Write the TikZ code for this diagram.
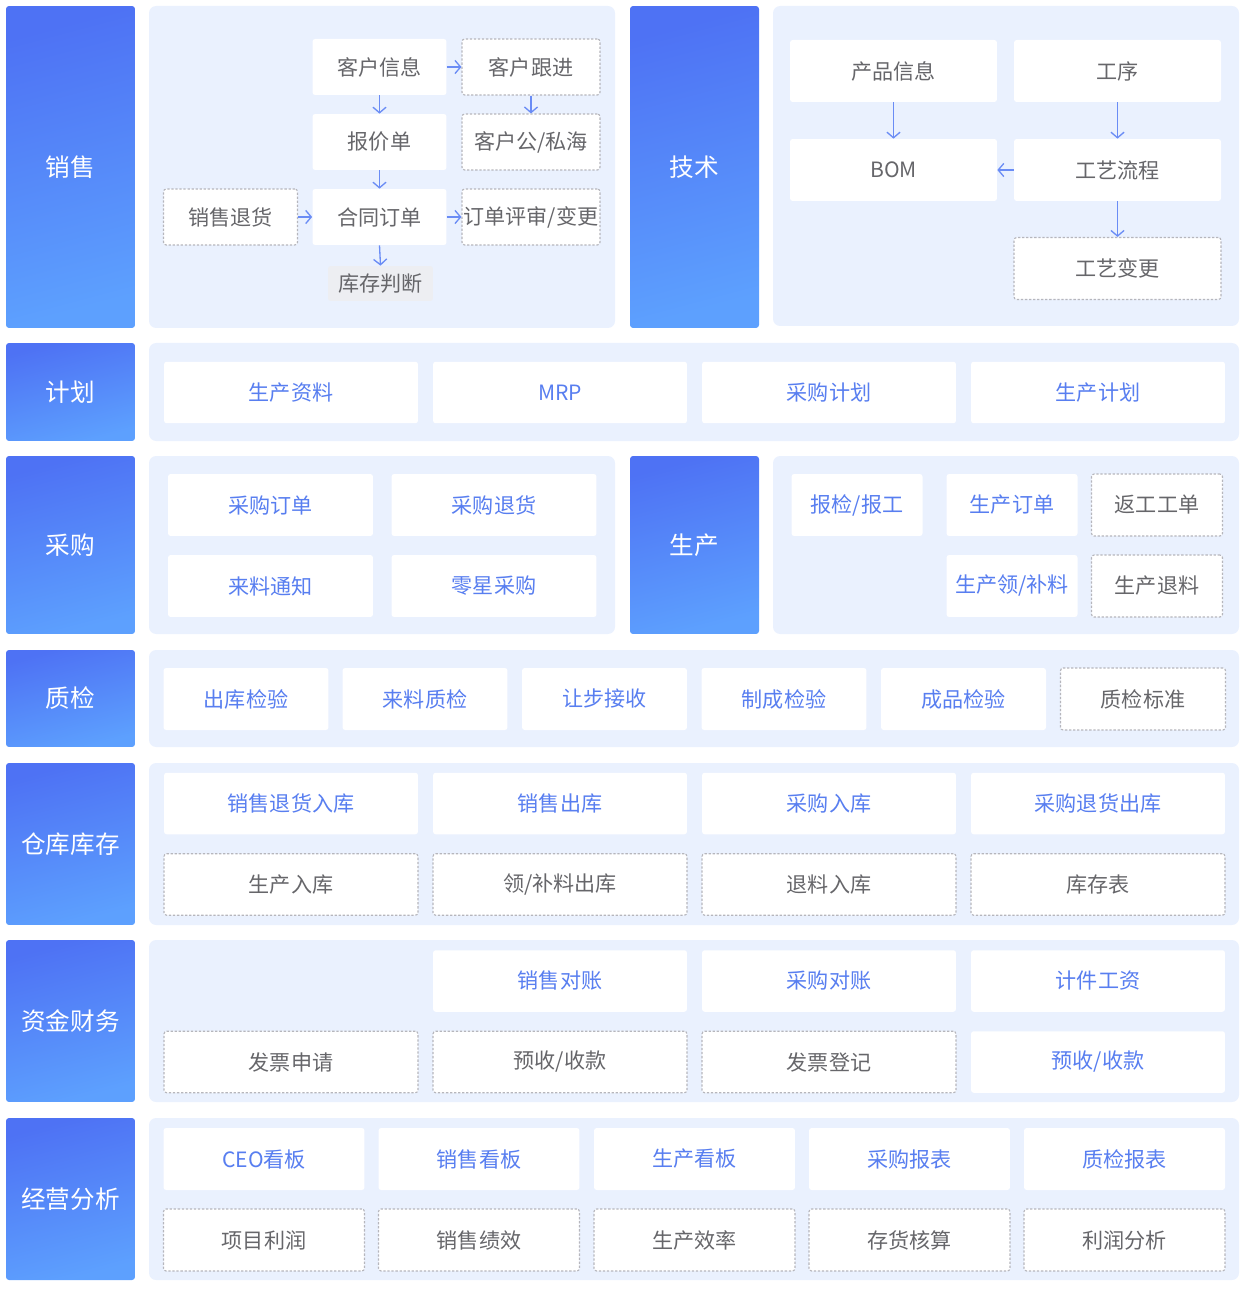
\documentclass[tikz,border=0pt]{standalone}
\usepackage{fontspec}
\newfontfamily\cjk{Noto Sans CJK SC}
\usetikzlibrary{arrows.meta}
\definecolor{labtop}{RGB}{78,114,244}
\definecolor{labbot}{RGB}{93,160,254}
\definecolor{panelbg}{RGB}{234,241,254}
\definecolor{bluetxt}{RGB}{88,126,240}
\definecolor{graytxt}{RGB}{102,102,106}
\definecolor{dashgray}{RGB}{182,182,188}
\definecolor{arrowblue}{RGB}{106,140,245}
\definecolor{stockgray}{RGB}{237,238,242}
\begin{document}
\begin{tikzpicture}[x = 0.02cm, y = -0.02cm,
        lab/.style = {rectangle, rounded corners = 1.7pt, top color = labtop, bottom color = labbot, shading angle = 15, text = white, minimum width = 2.58cm, inner sep = 0pt, font = \cjk\fontsize{14}{16}\selectfont},
        panel/.style = {fill = panelbg, rounded corners = 4pt},
        box/.style = {rectangle, rounded corners = 1.5pt, fill = white, inner sep = 0pt, font = \cjk\fontsize{12}{14}\selectfont},
        blu/.style = {box, text = bluetxt},
        gry/.style = {box, text = graytxt},
        dsh/.style = {box, text = graytxt, draw = dashgray, line width = 0.65pt, dash pattern = on 1.3pt off 1pt},
        arr/.style = {draw = arrowblue, line width = 0.75pt, -{Straight Barb[length = 3.2pt, width = 7.5pt]}},
        sbox/.style = {minimum width = 2.68cm, minimum height = 1.12cm},
        tbox/.style = {minimum width = 4.14cm, minimum height = 1.24cm},
        wbox/.style = {minimum width = 5.08cm, minimum height = 1.23cm},
        pbox/.style = {minimum width = 4.1cm, minimum height = 1.24cm},
        mbox/.style = {minimum width = 2.62cm, minimum height = 1.24cm},
        qbox/.style = {minimum width = 3.3cm, minimum height = 1.24cm},
        abox/.style = {minimum width = 4.02cm, minimum height = 1.24cm}]
    \useasboundingbox (0, 0) rectangle (1252, 1290);

    \node [lab, minimum height = 6.44cm] (xs) at (70.5, 167) {销售};
    \node [lab, minimum height = 6.44cm] (js) at (694.5, 167) {技术};
    \fill [panel] (149, 6) rectangle (615, 328);
    \fill [panel] (773, 6) rectangle (1239, 326);
    \node [gry, sbox] (khxx) at (379.5, 67) {客户信息};
    \node [dsh, sbox, minimum width = 2.76cm] (khgj) at (531, 67) {客户跟进};
    \node [gry, sbox] (bjd) at (379.5, 142) {报价单};
    \node [dsh, sbox, minimum width = 2.76cm] (gsh) at (531, 142) {客户公/私海};
    \node [dsh, sbox] (xsth) at (230.5, 217) {销售退货};
    \node [gry, sbox] (htdd) at (379.5, 217) {合同订单};
    \node [dsh, sbox, minimum width = 2.76cm] (ddps) at (531, 217) {订单评审/变更};
    \node [gry, fill = stockgray, minimum width = 2.1cm, minimum height = 0.7cm] (kcpd) at (380.5, 283.5) {库存判断};
    \draw [arr] (khxx.east) -- (khgj.west);
    \draw [arr] (khxx.south) -- (bjd.north);
    \draw [arr] (khgj.south) -- (gsh.north);
    \draw [arr] (bjd.south) -- (htdd.north);
    \draw [arr] (xsth.east) -- (htdd.west);
    \draw [arr] (htdd.east) -- (ddps.west);
    \draw [arr] (htdd.south) -- (kcpd.north);
    \node [gry, tbox] (cpxx) at (893.5, 71) {产品信息};
    \node [gry, tbox] (gx) at (1117.5, 71) {工序};
    \node [gry, tbox] (bom) at (893.5, 170) {BOM};
    \node [gry, tbox] (gylc) at (1117.5, 170) {工艺流程};
    \node [dsh, tbox] (gybg) at (1117.5, 268.5) {工艺变更};
    \draw [arr] (cpxx.south) -- (bom.north);
    \draw [arr] (gx.south) -- (gylc.north);
    \draw [arr] (gylc.west) -- (bom.east);
    \draw [arr] (gylc.south) -- (gybg.north);

    \node [lab, minimum height = 1.96cm] (jh) at (70.5, 392) {计划};
    \fill [panel] (149, 343) rectangle (1239, 441);
    \node [blu, wbox] (sczl) at (291, 392.5) {生产资料};
    \node [blu, wbox] (mrp) at (560, 392.5) {MRP};
    \node [blu, wbox] (cgjh) at (829, 392.5) {采购计划};
    \node [blu, wbox] (scjh) at (1098, 392.5) {生产计划};

    \node [lab, minimum height = 3.56cm] (cg) at (70.5, 545) {采购};
    \node [lab, minimum height = 3.56cm] (sc) at (694.5, 545) {生产};
    \fill [panel] (149, 456) rectangle (615, 634);
    \fill [panel] (773, 456) rectangle (1239, 634);
    \node [blu, pbox] (cgdd) at (270.5, 505) {采购订单};
    \node [blu, pbox] (cgth) at (494, 505) {采购退货};
    \node [blu, pbox] (lltz) at (270.5, 586) {来料通知};
    \node [blu, pbox] (lxcg) at (494, 586) {零星采购};
    \node [blu, mbox] (bjbg) at (857, 505) {报检/报工};
    \node [blu, mbox] (scdd) at (1012, 505) {生产订单};
    \node [dsh, mbox] (fggd) at (1157, 505) {返工工单};
    \node [blu, mbox] (scll) at (1012, 586) {生产领/补料};
    \node [dsh, mbox] (sctl) at (1157, 586) {生产退料};

    \node [lab, minimum height = 1.94cm] (zj) at (70.5, 698.5) {质检};
    \fill [panel] (149, 650) rectangle (1239, 747);
    \node [blu, qbox] (ckjy) at (246, 699) {出库检验};
    \node [blu, qbox] (llzj) at (425, 699) {来料质检};
    \node [blu, qbox] (rbjs) at (604.5, 699) {让步接收};
    \node [blu, qbox] (zcjy) at (784, 699) {制成检验};
    \node [blu, qbox] (cpjy) at (963.5, 699) {成品检验};
    \node [dsh, qbox] (zjbz) at (1143, 699) {质检标准};

    \node [lab, minimum height = 3.24cm] (ck) at (70.5, 844) {仓库库存};
    \fill [panel] (149, 763) rectangle (1239, 925);
    \node [blu, wbox] (xsthrk) at (291, 803.5) {销售退货入库};
    \node [blu, wbox] (xsck) at (560, 803.5) {销售出库};
    \node [blu, wbox] (cgrk) at (829, 803.5) {采购入库};
    \node [blu, wbox] (cgthck) at (1098, 803.5) {采购退货出库};
    \node [dsh, wbox] (scrk) at (291, 884.5) {生产入库};
    \node [dsh, wbox] (lbck) at (560, 884.5) {领/补料出库};
    \node [dsh, wbox] (tlrk) at (829, 884.5) {退料入库};
    \node [dsh, wbox] (kcb) at (1098, 884.5) {库存表};

    \node [lab, minimum height = 3.24cm] (cw) at (70.5, 1021) {资金财务};
    \fill [panel] (149, 940) rectangle (1239, 1102);
    \node [blu, wbox] (xsdz) at (560, 981) {销售对账};
    \node [blu, wbox] (cgdz) at (829, 981) {采购对账};
    \node [blu, wbox] (jjgz) at (1098, 981) {计件工资};
    \node [dsh, wbox] (fpsq) at (291, 1062) {发票申请};
    \node [dsh, wbox] (ysska) at (560, 1062) {预收/收款};
    \node [dsh, wbox] (fpdj) at (829, 1062) {发票登记};
    \node [blu, wbox] (ysskb) at (1098, 1062) {预收/收款};

    \node [lab, minimum height = 3.24cm] (fx) at (70.5, 1199) {经营分析};
    \fill [panel] (149, 1118) rectangle (1239, 1280);
    \node [blu, abox] (ceokb) at (264, 1159) {CEO看板};
    \node [blu, abox] (xskb) at (479, 1159) {销售看板};
    \node [blu, abox] (sckb) at (694.5, 1159) {生产看板};
    \node [blu, abox] (cgbb) at (909.5, 1159) {采购报表};
    \node [blu, abox] (zjbb) at (1124.5, 1159) {质检报表};
    \node [dsh, abox] (xmlr) at (264, 1240) {项目利润};
    \node [dsh, abox] (xsjx) at (479, 1240) {销售绩效};
    \node [dsh, abox] (scxl) at (694.5, 1240) {生产效率};
    \node [dsh, abox] (chhs) at (909.5, 1240) {存货核算};
    \node [dsh, abox] (lrfx) at (1124.5, 1240) {利润分析};
\end{tikzpicture}
\end{document}
